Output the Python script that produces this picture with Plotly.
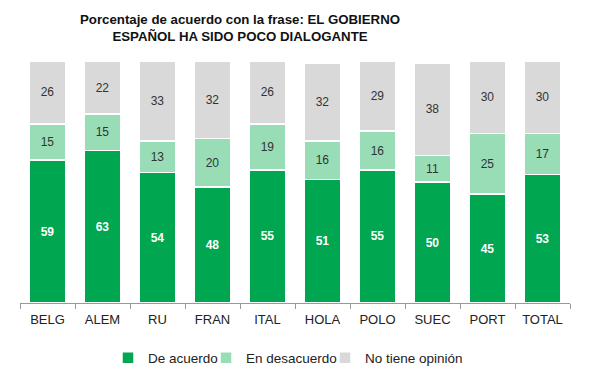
import plotly.graph_objects as go

categories = ["BELG", "ALEM", "RU", "FRAN", "ITAL", "HOLA", "POLO", "SUEC", "PORT", "TOTAL"]
de_acuerdo = [59, 63, 54, 48, 55, 51, 55, 50, 45, 53]
en_desacuerdo = [15, 15, 13, 20, 19, 16, 16, 11, 25, 17]
no_opinion = [26, 22, 33, 32, 26, 32, 29, 38, 30, 30]

series = [
    ("De acuerdo", de_acuerdo, "#00A650", dict(color="white", size=12, family="Arial", weight="bold"), "legend"),
    ("En desacuerdo", en_desacuerdo, "#99DDB7", dict(color="#333333", size=12, family="Arial"), "legend2"),
    ("No tiene opinión", no_opinion, "#D9D9D9", dict(color="#333333", size=12, family="Arial"), "legend3"),
]

fig = go.Figure()
for name, vals, color, tf, lg in series:
    fig.add_trace(go.Bar(
        x=categories, y=vals, name=name, legend=lg,
        marker=dict(color=color, line=dict(color="white", width=1.5)),
        text=[str(v) for v in vals], textposition="inside",
        insidetextanchor="middle", textangle=0,
        textfont=tf, hoverinfo="skip",
    ))

W, H = 590, 369  # page body has an 8px default margin
leg_common = dict(orientation="h", xref="container", yref="container", xanchor="left",
                  y=1 - 350 / H, yanchor="middle", font=dict(size=13.5, color="#222222"),
                  itemwidth=30, bgcolor="rgba(0,0,0,0)")

fig.update_layout(
    barmode="stack",
    bargap=0.35,
    width=W, height=H,
    margin=dict(l=12, r=28, t=53, b=74),
    paper_bgcolor="white", plot_bgcolor="white",
    font=dict(family="Arial, Liberation Sans", size=13, color="#222222"),
    title=dict(
        text="<b>Porcentaje de acuerdo con la frase: EL GOBIERNO<br>ESPAÑOL HA SIDO POCO DIALOGANTE</b>",
        x=232 / W, xanchor="center", yref="container", y=1 - 16 / H, yanchor="middle",
        font=dict(size=13.25, color="#111111"),
    ),
    showlegend=True,
    legend=dict(x=100 / W, **leg_common),
    legend2=dict(x=198 / W, **leg_common),
    legend3=dict(x=317 / W, **leg_common),
    uniformtext=dict(minsize=8, mode="show"),
)
fig.update_xaxes(
    showline=True, linecolor="#999999", linewidth=1,
    ticks="outside", tickson="boundaries", ticklen=5, tickcolor="#999999",
    ticklabelstandoff=4,
    tickfont=dict(size=13, color="#222222"), showgrid=False,
)
fig.update_yaxes(range=[0, 100], visible=False, showgrid=False)

fig.write_html("out.html")
